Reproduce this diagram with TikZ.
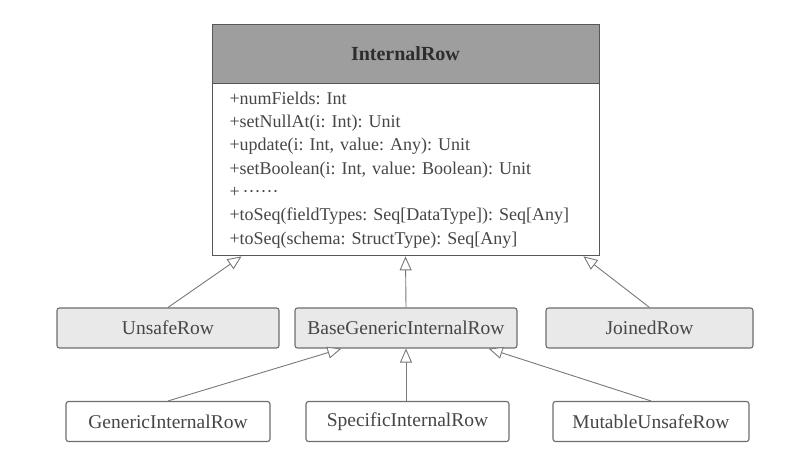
\documentclass[tikz,border=0pt]{standalone}
\usepackage{fontspec}
\setmainfont{Liberation Serif}
\usepackage{tikz}
\usepackage{xcolor}
\usetikzlibrary{arrows.meta}
\usetikzlibrary{positioning}
\frenchspacing

\begin{document}
\begin{tikzpicture}[x={1pt}, y={1pt},
		classbox/.style={draw={BORDER_GRAY}, line width={1.1pt}, rounded corners={2.5pt}, minimum height={40pt}, inner sep={0pt}, text={TEXT_GRAY}, font={\fontsize{19.5}{24}\selectfont}},
		basebox/.style={classbox, fill={FILL_GRAY}},
		leafbox/.style={classbox, fill={WHITE}},
		extends/.style={draw={LINE_GRAY}, line width={0.9pt}, -{Triangle[open, length={14pt}, width={12pt}, fill={WHITE}]}}]
				\definecolor{WHITE}{RGB}{255, 255, 255}
				\definecolor{FILL_GRAY}{RGB}{233, 233, 233}
				\definecolor{HEAD_GRAY}{RGB}{158, 158, 158}
				\definecolor{BORDER_GRAY}{RGB}{110, 110, 110}
				\definecolor{LINE_GRAY}{RGB}{120, 120, 120}
				\definecolor{TEXT_GRAY}{RGB}{70, 70, 70}
				\definecolor{DARK_GRAY}{RGB}{45, 45, 45}
				\useasboundingbox (0, 0) rectangle (807, 455);

				% the InternalRow class
				\node[draw={DARK_GRAY!80}, line width={0.9pt}, fill={HEAD_GRAY}, minimum width={387pt}, minimum height={59pt}, inner sep={0pt}, text={DARK_GRAY}, font={\fontsize{20}{24}\selectfont\bfseries}] (InternalRow) at (405.5, 401.5) {InternalRow};
				\node[draw={DARK_GRAY!80}, line width={0.9pt}, fill={WHITE}, minimum width={387pt}, minimum height={172pt}, text width={352pt}, inner xsep={17.5pt}, inner ysep={0pt}, align=left, text={TEXT_GRAY}, font={\fontsize{18}{23.3}\selectfont}, below=0pt of InternalRow] (members) {%
					+numFields: Int\\
					+setNullAt(i: Int): Unit\\
					+update(i: Int, value: Any): Unit\\
					+setBoolean(i: Int, value: Boolean): Unit\\
					+\,\textperiodcentered\textperiodcentered\textperiodcentered\textperiodcentered\textperiodcentered\textperiodcentered\\
					+toSeq(fieldTypes: Seq[DataType]): Seq[Any]\\
					+toSeq(schema: StructType): Seq[Any]};

				% direct subclasses
				\node[basebox, minimum width={222pt}] (UnsafeRow) at (168, 127) {UnsafeRow};
				\node[basebox, minimum width={222pt}] (BaseGenericInternalRow) at (406, 127) {BaseGenericInternalRow};
				\node[basebox, minimum width={207pt}] (JoinedRow) at (649.5, 127) {JoinedRow};

				% subclasses of BaseGenericInternalRow
				\node[leafbox, minimum width={204pt}] (GenericInternalRow) at (168, 33.5) {GenericInternalRow};
				\node[leafbox, minimum width={203pt}] (SpecificInternalRow) at (407.5, 33.5) {SpecificInternalRow};
				\node[leafbox, minimum width={196pt}] (MutableUnsafeRow) at (651, 33.5) {MutableUnsafeRow};

				\draw[extends] (UnsafeRow.north) -- ([xshift={30pt}]members.south west);
				\draw[extends] (BaseGenericInternalRow.north) -- (members.south);
				\draw[extends] (JoinedRow.north) -- ([xshift={-16pt}]members.south east);

				\draw[extends] (GenericInternalRow.north) -- ([xshift={47pt}]BaseGenericInternalRow.south west);
				\draw[extends] (SpecificInternalRow.north -| BaseGenericInternalRow.south) -- (BaseGenericInternalRow.south);
				\draw[extends] (MutableUnsafeRow.north) -- ([xshift={-29pt}]BaseGenericInternalRow.south east);
			\end{tikzpicture}
\end{document}
